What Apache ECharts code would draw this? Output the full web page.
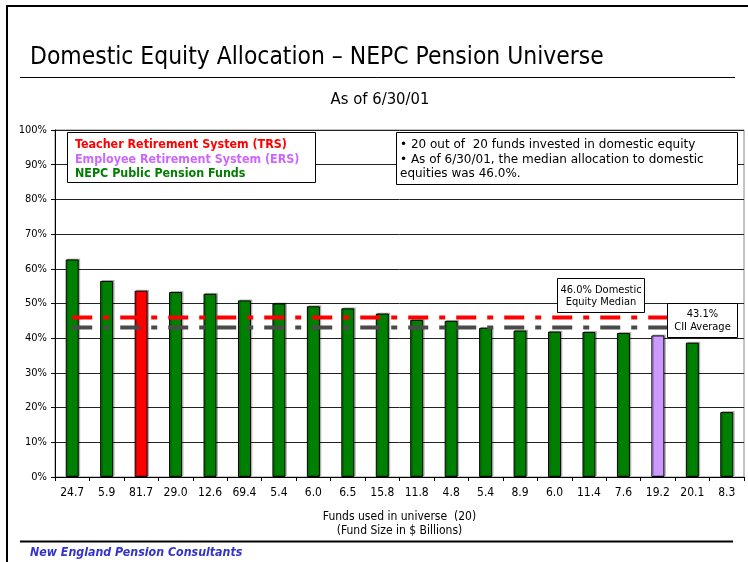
<!DOCTYPE html>
<html>
<head>
<meta charset="utf-8">
<script src="https://cdn.jsdelivr.net/npm/echarts@6/dist/echarts.min.js"></script>
<style>
  html, body { margin: 0; padding: 0; background: #fff; }
  #chart { width: 748px; height: 562px; }
</style>
</head>
<body>
<div id="chart"></div>
<script>
// fund size ($ billions) shown under each bar
const fundSizes = ['24.7', '5.9', '81.7', '29.0', '12.6', '69.4', '5.4', '6.0', '6.5', '15.8',
  '11.8', '4.8', '5.4', '8.9', '6.0', '11.4', '7.6', '19.2', '20.1', '8.3']
// domestic equity allocation, %
const allocation = [62.7, 56.5, 53.7, 53.3, 52.8, 50.9, 50.0, 49.2, 48.6, 47.1,
  45.3, 45.0, 43.0, 42.2, 41.9, 41.8, 41.5, 40.8, 38.7, 18.7]
// which group each fund belongs to
const fundGroup = ['NEPC', 'NEPC', 'TRS', 'NEPC', 'NEPC', 'NEPC', 'NEPC', 'NEPC', 'NEPC', 'NEPC',
  'NEPC', 'NEPC', 'NEPC', 'NEPC', 'NEPC', 'NEPC', 'NEPC', 'ERS', 'NEPC', 'NEPC']
const yTicks = [0, 10, 20, 30, 40, 50, 60, 70, 80, 90, 100]
const medianValue = 46.0
const averageValue = 43.1

const groupColor = { NEPC: '#008000', TRS: '#FF0000', ERS: '#CC99FF' }
const FONT = 'Tahoma, "DejaVu Sans Condensed", "DejaVu Sans", sans-serif'
const WIDE = '"DejaVu Sans", sans-serif'

const chart = echarts.init(document.getElementById('chart'))

// reference lines run across the bars (in category units on a hidden value axis)
const lineFrom = 0.5
const lineTo = 19.65

function refLine(name, value, color) {
  return {
    name: name,
    type: 'line',
    xAxisIndex: 1,
    symbol: 'none',
    z: 5,
    silent: true,
    lineStyle: { color: color, width: 4, type: [20, 11, 6, 11] },
    data: [[lineFrom, value], [lineTo, value]]
  }
}

function box(x, y, w, h) {
  return {
    type: 'rect',
    z: 100,
    shape: { x: x, y: y, width: w, height: h },
    style: { fill: '#fff', stroke: '#000', lineWidth: 1 }
  }
}

function text(x, y, str, opts) {
  return {
    type: 'text',
    z: 101,
    x: x,
    y: y,
    style: Object.assign({
      text: str,
      font: '12px ' + WIDE,
      fill: '#000',
      verticalAlign: 'middle'
    }, opts || {})
  }
}

chart.setOption({
  animation: false,
  backgroundColor: '#fff',
  textStyle: { fontFamily: FONT },
  grid: {
    left: 55,
    right: 4,
    top: 130,
    bottom: 85,
    show: true,
    borderColor: '#888',
    borderWidth: 1
  },
  xAxis: [
    {
      type: 'category',
      data: fundSizes,
      axisLine: { lineStyle: { color: '#000', width: 1 } },
      axisTick: { show: true, length: 4, lineStyle: { color: '#000' } },
      axisLabel: { color: '#000', fontSize: 12, margin: 10, interval: 0 },
      name: 'Funds used in universe  (20)\n(Fund Size in $ Billions)',
      nameLocation: 'middle',
      nameGap: 33,
      nameTextStyle: { color: '#000', fontSize: 12, lineHeight: 14, verticalAlign: 'top' }
    },
    {
      type: 'value',
      min: 0,
      max: fundSizes.length,
      show: false
    }
  ],
  yAxis: {
    type: 'value',
    min: yTicks[0],
    max: yTicks[yTicks.length - 1],
    interval: 10,
    axisLine: { show: true, lineStyle: { color: '#000', width: 1 } },
    axisTick: { show: true, length: 4, lineStyle: { color: '#000' } },
    axisLabel: { color: '#000', fontSize: 11, formatter: '{value}%', margin: 8 },
    splitLine: { lineStyle: { color: '#222', width: 1 } }
  },
  series: [
    {
      type: 'bar',
      barWidth: 13,
      z: 2,
      data: allocation.map((v, i) => ({
        value: v,
        itemStyle: {
          color: groupColor[fundGroup[i]],
          borderColor: '#000',
          borderWidth: 1,
          shadowColor: 'rgba(0,0,0,0.22)',
          shadowOffsetX: 1.5,
          shadowOffsetY: -1
        }
      }))
    },
    refLine('Median', medianValue, '#FF0000'),
    refLine('CII Average', averageValue, '#4A4A4A')
  ],
  graphic: [
    // slide frame
    { type: 'rect', z: 50, shape: { x: 6, y: 5, width: 2, height: 560 }, style: { fill: '#000' } },
    { type: 'rect', z: 50, shape: { x: 6, y: 5, width: 745, height: 2 }, style: { fill: '#000' } },
    // title and rules
    text(30, 58, 'Domestic Equity Allocation \u2013 NEPC Pension Universe', { font: '24.4px ' + FONT }),
    { type: 'line', z: 50, shape: { x1: 20, y1: 77.5, x2: 735, y2: 77.5 }, style: { stroke: '#000', lineWidth: 1 } },
    text(380, 100, 'As of 6/30/01', { font: '16.5px ' + FONT, align: 'center' }),
    { type: 'line', z: 50, shape: { x1: 20, y1: 541.5, x2: 733, y2: 541.5 }, style: { stroke: '#000', lineWidth: 2 } },
    text(30, 553, 'New England Pension Consultants', { font: 'italic bold 12.3px ' + FONT, fill: '#3333CC' }),
    // legend box
    box(67.5, 132.5, 248, 50),
    text(75, 145, 'Teacher Retirement System (TRS)', { font: 'bold 12.4px ' + FONT, fill: '#FF0000' }),
    text(75, 159.5, 'Employee Retirement System (ERS)', { font: 'bold 12.4px ' + FONT, fill: '#CC66FF' }),
    text(75, 174, 'NEPC Public Pension Funds', { font: 'bold 12.4px ' + FONT, fill: '#008000' }),
    // note box
    box(396.5, 132.5, 341, 52),
    text(400, 145, '\u2022 20 out of  20 funds invested in domestic equity'),
    text(400, 159.5, '\u2022 As of 6/30/01, the median allocation to domestic'),
    text(400, 174, 'equities was 46.0%.'),
    // reference line labels
    box(557.5, 278.5, 87, 34),
    text(601, 290.5, '46.0% Domestic', { font: '11px ' + FONT, align: 'center' }),
    text(601, 302.5, 'Equity Median', { font: '11px ' + FONT, align: 'center' }),
    box(667.5, 303.5, 70, 34),
    text(702.5, 314, '43.1%', { font: '11px ' + FONT, align: 'center' }),
    text(702.5, 327, 'CII Average', { font: '11px ' + FONT, align: 'center' })
  ]
})
</script>
</body>
</html>
